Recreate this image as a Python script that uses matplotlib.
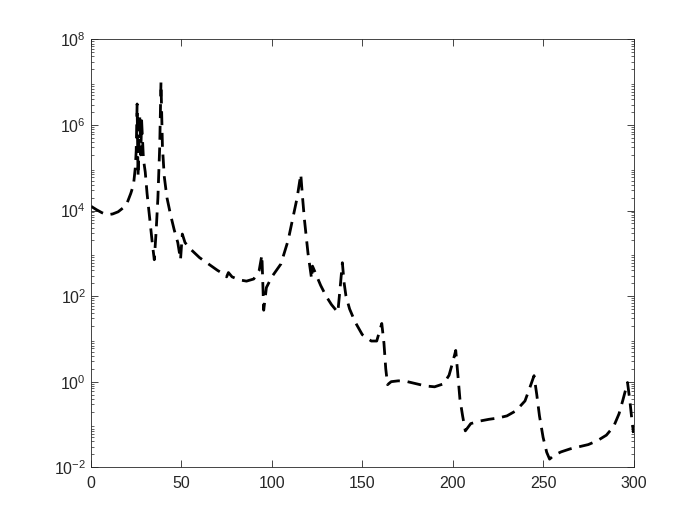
import matplotlib.pyplot as plt
from matplotlib.ticker import LogLocator, NullFormatter, MultipleLocator, FixedLocator
import numpy as np

plt.rcParams['font.family'] = ['Liberation Sans', 'DejaVu Sans']
plt.rcParams['mathtext.fontset'] = 'custom'
plt.rcParams['mathtext.rm'] = 'Liberation Sans'

# curve: x and log10(y)
xs = [0, 3, 6, 9, 12, 15, 18, 20, 22, 23.5, 24.5, 25, 25.5, 26, 27, 27.5, 28, 29, 30,
      31, 32, 33, 34, 35, 36, 37, 38, 38.7, 39.5, 40.5, 42, 44, 46, 48, 49.5, 50.5,
      52, 55, 60, 65, 70, 74, 75, 76, 78, 82, 86, 90, 93, 94.5, 95.5, 97, 100, 105,
      109, 112, 114, 116, 117, 118, 119, 120, 121, 122, 122.5, 124, 127, 130, 133,
      136.5, 138, 139, 140, 141, 143, 146, 150, 155, 158, 160.8, 162, 163, 164, 166,
      170, 175, 180, 185, 190, 195, 198, 200, 201.7, 203, 204, 205.5, 207, 210, 215,
      220, 225, 230, 235, 240, 243, 245, 246.5, 248, 250, 252, 253.6, 256, 260, 265,
      270, 275, 280, 285, 289, 292, 294, 296.7, 298, 299, 300]
logy = [4.1, 4.02, 3.95, 3.9, 3.92, 3.97, 4.07, 4.18, 4.4, 4.6, 5.0, 5.4, 6.49, 4.8,
        6.19, 5.3, 6.1, 5.2, 4.9, 4.4, 4.0, 3.6, 3.2, 2.85, 3.5, 4.3, 5.5, 7.0, 5.5,
        4.8, 4.3, 3.9, 3.55, 3.25, 2.85, 3.45, 3.25, 3.1, 2.9, 2.75, 2.6, 2.5, 2.45,
        2.55, 2.45, 2.38, 2.35, 2.4, 2.6, 2.96, 1.67, 2.2, 2.45, 2.75, 3.3, 3.9, 4.3,
        4.85, 4.3, 3.8, 3.4, 3.0, 2.7, 2.4, 2.7, 2.55, 2.25, 2.0, 1.8, 1.62, 2.3, 2.78,
        2.3, 2.0, 1.7, 1.4, 1.1, 0.95, 0.95, 1.36, 0.9, 0.3, -0.07, 0.0, 0.02, 0.0,
        -0.05, -0.1, -0.12, -0.05, 0.15, 0.45, 0.73, 0.1, -0.4, -0.8, -1.15, -0.98,
        -0.92, -0.88, -0.85, -0.8, -0.68, -0.45, -0.1, 0.14, -0.3, -0.8, -1.3, -1.65,
        -1.81, -1.72, -1.64, -1.57, -1.52, -1.47, -1.38, -1.25, -1.05, -0.75, -0.45,
        -0.02, -0.45, -0.85, -1.2]

ys = 10.0 ** np.array(logy)

fig = plt.figure(figsize=(7, 5.25), dpi=100)
ax = fig.add_axes([0.13, 0.11, 0.775, 0.815])

ax.plot(xs, ys, color='black', linewidth=2, linestyle=(0, (5, 2.8)))

ax.set_yscale('log')
ax.set_xlim(0, 300)
ax.set_ylim(1e-2, 1e8)
ax.xaxis.set_major_locator(MultipleLocator(50))
ax.yaxis.set_major_locator(FixedLocator([1e-2, 1e0, 1e2, 1e4, 1e6, 1e8]))
ax.yaxis.set_minor_locator(LogLocator(base=10, subs=np.arange(2, 10), numticks=20))
ax.yaxis.set_minor_formatter(NullFormatter())

ax.tick_params(which='both', direction='in', top=True, right=True,
               colors='#262626', labelsize=11.5)
ax.tick_params(axis='x', pad=6)
ax.tick_params(which='major', length=5, width=0.6)
ax.tick_params(which='minor', length=2.5, width=0.5)
for s in ax.spines.values():
    s.set_color('#262626')
    s.set_linewidth(0.6)

fig.savefig('out.png', dpi=100)
